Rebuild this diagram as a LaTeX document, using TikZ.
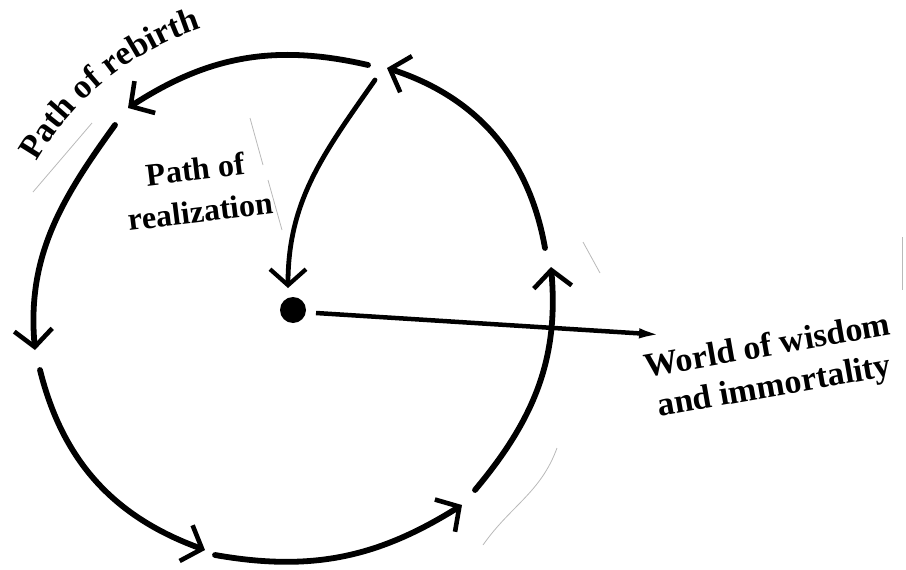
\documentclass[tikz,border=0pt]{standalone}
\usepackage{fontspec}
\setmainfont{Liberation Serif}
\usetikzlibrary{arrows.meta,decorations.text}
\begin{document}
\begin{tikzpicture}[x=1pt,y=1pt,
  cyc/.style={line width=5.8pt,line cap=round,-{Straight Barb[length=17pt,width=38pt,line width=4.6pt]}},
  lbl/.style={font=\bfseries\fontsize{32}{42}\selectfont,inner sep=0pt,align=center},
  faint/.style={gray!55,line width=0.8pt}]
\useasboundingbox (0,0) rectangle (906,-570);
% coordinates of the hand-drawn cycle
\coordinate (s1) at (368,-65);  \coordinate (e1) at (128,-108);
\coordinate (s2) at (115,-125); \coordinate (e2) at (35,-350);
\coordinate (s3) at (40,-370);  \coordinate (e3) at (205,-550);
\coordinate (s4) at (215,-555); \coordinate (e4) at (462,-505);
\coordinate (s5) at (475,-490); \coordinate (e5) at (551,-267);
\coordinate (s6) at (545,-248); \coordinate (e6) at (387,-68);
\coordinate (r0) at (375,-80);  \coordinate (r1) at (288,-288);
\coordinate (w0) at (316,-313); \coordinate (w1) at (665,-335);
% centre dot
\node[circle,fill=black,minimum size=26pt,inner sep=0pt] (dot) at (293,-310) {};
% cycle arcs
\draw[cyc] (s1) to[out=167,in=33] (e1);
\draw[cyc] (s2) to[out=234,in=95] (e2);
\draw[cyc] (s3) to[out=284,in=160] (e3);
\draw[cyc] (s4) to[out=350,in=212] (e4);
\draw[cyc] (s5) to[out=50,in=275] (e5);
\draw[cyc] (s6) to[out=100,in=342] (e6);
% path of realization
\draw[line width=4.8pt,line cap=round,-{Straight Barb[length=16pt,width=36pt,line width=4.2pt]}] (r0) to[out=235,in=90] (r1);
% line to world of wisdom
\draw[line width=4.5pt,-{Latex[length=26pt,width=10pt]}] (w0) -- (w1);
% labels
\path[decorate,decoration={text along path,text align=center,
  text={|\bfseries\fontsize{34}{34}\selectfont|Path of rebirth}}]
  (dot.center) ++(152:296) arc[start angle=152,end angle=106,radius=296];
\node[lbl,rotate=7] (real) at (198,-190) {Path of\\realization};
\node[lbl,font=\bfseries\fontsize{34}{41}\selectfont,rotate=10] (world) at (771,-368) {World of wisdom\\and immortality};
% faint scan lines
\draw[faint] (33,-192) -- (92,-123);
\draw[faint] (250,-118) -- (263,-165);
\draw[faint] (268,-180) -- (282,-230);
\draw[faint] (583,-242) -- (600,-273);
\draw[faint] (902,-237) -- (902,-290);
\draw[faint] (557,-448) to[out=250,in=55] (483,-545);
\end{tikzpicture}
\end{document}
